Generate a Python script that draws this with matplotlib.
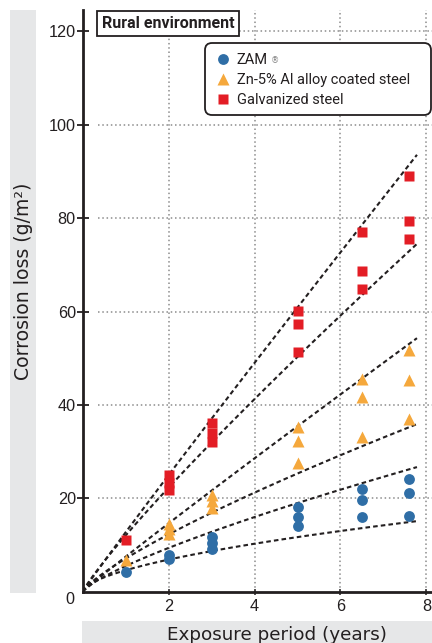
import numpy as np
import matplotlib
matplotlib.use('Agg')
import matplotlib.pyplot as plt
from matplotlib.patches import Rectangle, FancyBboxPatch

# ---------------- data ----------------
years = [1, 2, 3, 5, 6.5, 7.6]
zam = [[4.3], [7.1, 7.9], [9.2, 10.4, 11.7], [14.0, 16.0, 18.2],
       [15.9, 19.6, 21.9], [16.3, 21.1, 24.2]]
znal = [[6.8], [12.4, 13.5, 14.6], [18.0, 19.4, 20.8], [27.5, 32.3, 35.2],
        [33.2, 41.6, 45.6], [37.0, 45.4, 51.8]]
galv = [[11.0], [21.7, 23.3, 24.9], [32.0, 34.0, 36.1], [51.4, 57.4, 60.1],
        [64.8, 68.8, 77.0], [75.5, 79.3, 89.0]]
series_labels = ['ZAM', 'Zn-5% Al alloy coated steel', 'Galvanized steel']
# trend curves y = a * t**b (upper / lower bound per material)
trend_a = [12.74, 12.05, 7.5, 7.1, 5.5, 4.6]
trend_b = [0.972, 0.888, 0.965, 0.79, 0.77, 0.58]
trend_end = 7.78
xticks = [2, 4, 6, 8]
yticks = [20, 40, 60, 80, 100, 120]
title = 'Rural environment'
xlabel = 'Exposure period (years)'
ylabel = 'Corrosion loss (g/m²)'

# ---------------- style ----------------
DARK = '#231f20'
BLUE = '#2f6ea6'
ORANGE = '#f5a83c'
RED = '#e31d25'
GRID = '#8c8c8c'
LABELBG = '#e6e7e8'
NARROW = ['Roboto', 'DejaVu Sans']
TICKFONT = ['Liberation Sans', 'DejaVu Sans']
LABELFONT = ['DejaVu Sans']

W, H = 432, 643
fig = plt.figure(figsize=(W / 100, H / 100), dpi=100)

def fx(px):
    return px / W

def fy(py):
    return 1 - py / H

ax = fig.add_axes([fx(82.7), fy(591.7), fx(432 - 82.7), (591.7 - 10) / H])
xmax, ymax = 8.13, 124.6
ax.set_xlim(0, xmax)
ax.set_ylim(0, ymax)

# grid (dotted)
ax.hlines(yticks, 0.36, xmax, colors=GRID, linewidth=1.1,
          linestyles=[(0, (1.0, 1.8))], zorder=1)
ax.vlines(xticks, 0, ymax, colors=GRID, linewidth=1.1,
          linestyles=[(0, (1.0, 1.8))], zorder=1)

# trend curves
t = np.linspace(0, trend_end, 200)
for a, b in zip(trend_a, trend_b):
    ax.plot(t, a * t ** b, color=DARK, lw=1.5, linestyle=(0, (2.2, 1.5)),
            zorder=2)

def flat(groups):
    xs, ys = [], []
    for x, vals in zip(years, groups):
        for v in vals:
            xs.append(x)
            ys.append(v)
    return xs, ys

handles = []
for groups, marker, color, ms in [(zam, 'o', BLUE, 7.8),
                                  (znal, '^', ORANGE, 8.0),
                                  (galv, 's', RED, 7.2)]:
    xs, ys = flat(groups)
    h, = ax.plot(xs, ys, linestyle='none', marker=marker, ms=ms,
                 markerfacecolor=color, markeredgecolor='none', zorder=3,
                 clip_on=False)
    handles.append(h)

# spines & ticks
for s in ['top', 'right']:
    ax.spines[s].set_visible(False)
for s in ['left', 'bottom']:
    ax.spines[s].set_linewidth(2.0)
    ax.spines[s].set_color(DARK)
ax.set_xticks(xticks)
ax.set_yticks(yticks)
ax.tick_params(axis='y', direction='inout', length=8, width=1.3, color=DARK,
               pad=1, labelsize=11.7, labelcolor=DARK)
ax.tick_params(axis='x', direction='inout', length=5, width=1.1, color=DARK,
               pad=3, labelsize=11.7, labelcolor=DARK)
for lab in ax.get_xticklabels() + ax.get_yticklabels():
    lab.set_fontfamily(TICKFONT)
fig.text(fx(70), fy(600), '0', ha='center', va='center', fontsize=11.7,
         family=TICKFONT, color=DARK)

# axis label boxes
fig.patches.append(Rectangle((fx(10), fy(593)), fx(26), 583 / H,
                             transform=fig.transFigure, facecolor=LABELBG,
                             edgecolor='none', zorder=0))
fig.patches.append(Rectangle((fx(82.3), 0), fx(432 - 82.3), 22 / H,
                             transform=fig.transFigure, facecolor=LABELBG,
                             edgecolor='none', zorder=0))
fig.text(fx(24), fy(281), ylabel, rotation=90, ha='center', va='center',
         fontsize=13.6, family=LABELFONT, color=DARK)
fig.text(fx(277), fy(640), xlabel, ha='center', va='baseline',
         fontsize=13.2, family=LABELFONT, color=DARK)

# title box
fig.patches.append(Rectangle((0.973, 6.07), 1.42, 0.253,
                             transform=fig.dpi_scale_trans, facecolor='white',
                             edgecolor=DARK, lw=1.3, zorder=5))
fig.text(fx(168.3), fy(23.5), title, ha='center', va='center', fontsize=11.5,
         fontweight='bold', family=NARROW, color=DARK, zorder=6)

# legend box
fig.patches.append(FancyBboxPatch((2.05, 5.28), 2.26, 0.72,
                                  boxstyle='round,pad=0,rounding_size=0.07',
                                  transform=fig.dpi_scale_trans,
                                  facecolor='white', edgecolor=DARK, lw=1.3,
                                  zorder=5))
leg = fig.legend(handles, series_labels, loc='upper left',
                 bbox_to_anchor=(fx(215.4), fy(53)), frameon=False,
                 handlelength=1.0, handletextpad=0.45, labelspacing=0.42,
                 borderpad=0, borderaxespad=0,
                 prop={'family': NARROW, 'size': 10.5})
leg.set_zorder(6)
for txt in leg.get_texts():
    txt.set_color(DARK)

fig.canvas.draw()
r = fig.canvas.get_renderer()
bb = leg.get_texts()[0].get_window_extent(r)
fig.text((bb.x1 + 3) / W, (bb.y1 - 3) / H, '®', ha='left', va='top',
         fontsize=6, color='#808080', zorder=7)

fig.savefig('out.png', dpi=100)
